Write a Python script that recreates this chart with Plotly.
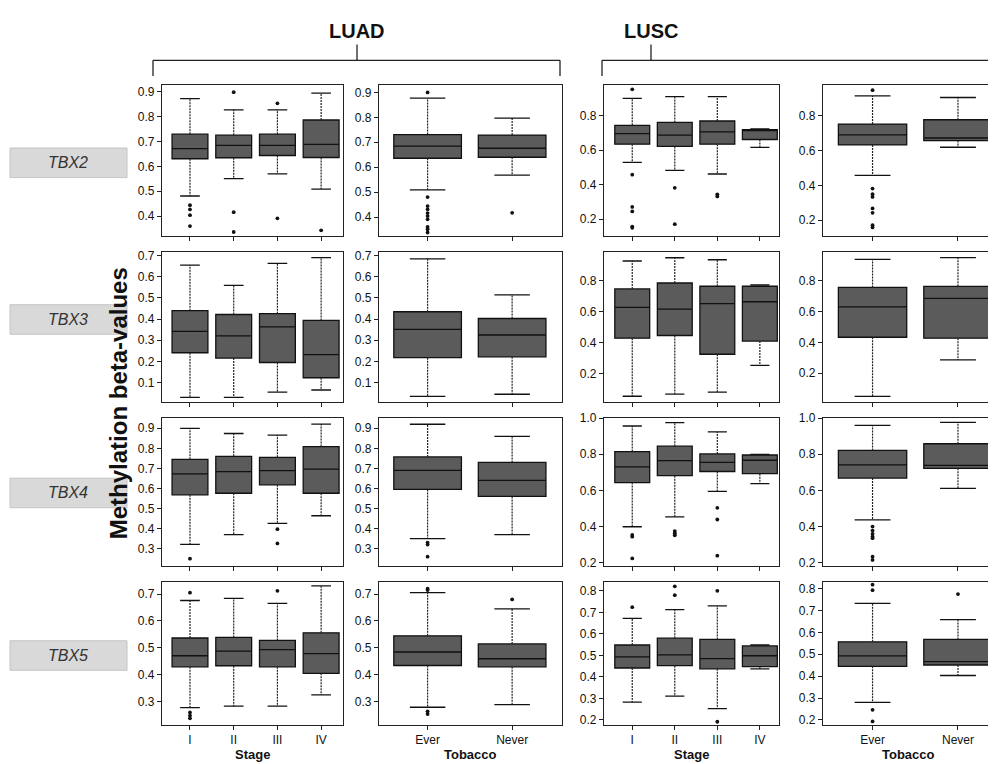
import plotly.graph_objects as go

W, H = 996, 764          # browser window
OFFX, OFFY = 8, 8        # default page margin around the plot div
FW, FH = W - OFFX, H - OFFY

GENES = ["TBX2", "TBX3", "TBX4", "TBX5"]
STAGE_LABELS = ["I", "II", "III", "IV"]
TOBACCO_LABELS = ["Ever", "Never"]

# ---------------- LUAD by stage (I, II, III, IV) ----------------
LUAD_STAGE_LO = {"TBX2": [0.481, 0.551, 0.570, 0.509], "TBX3": [0.030, 0.030, 0.055, 0.065],
                 "TBX4": [0.321, 0.370, 0.426, 0.464], "TBX5": [0.279, 0.284, 0.284, 0.326]}
LUAD_STAGE_Q1 = {"TBX2": [0.631, 0.635, 0.644, 0.636], "TBX3": [0.241, 0.216, 0.195, 0.123],
                 "TBX4": [0.568, 0.576, 0.618, 0.576], "TBX5": [0.430, 0.434, 0.430, 0.406]}
LUAD_STAGE_MED = {"TBX2": [0.672, 0.685, 0.685, 0.689], "TBX3": [0.342, 0.321, 0.363, 0.232],
                  "TBX4": [0.673, 0.684, 0.689, 0.696], "TBX5": [0.471, 0.488, 0.494, 0.479]}
LUAD_STAGE_Q3 = {"TBX2": [0.730, 0.726, 0.730, 0.787], "TBX3": [0.440, 0.422, 0.426, 0.394],
                 "TBX4": [0.745, 0.760, 0.755, 0.809], "TBX5": [0.537, 0.539, 0.528, 0.556]}
LUAD_STAGE_HI = {"TBX2": [0.873, 0.828, 0.828, 0.895], "TBX3": [0.655, 0.560, 0.664, 0.691],
                 "TBX4": [0.900, 0.874, 0.866, 0.921], "TBX5": [0.676, 0.684, 0.665, 0.730]}
LUAD_STAGE_OUT = {"TBX2": [[0.444, 0.427, 0.404, 0.360], [0.899, 0.416, 0.336], [0.854, 0.391], [0.343]],
                  "TBX3": [[], [], [], []],
                  "TBX4": [[0.250], [], [0.397, 0.326], []],
                  "TBX5": [[0.705, 0.261, 0.249, 0.239], [], [0.712], []]}

# ---------------- LUAD by tobacco (Ever, Never) ----------------
LUAD_TOB_LO = {"TBX2": [0.509, 0.568], "TBX3": [0.035, 0.045], "TBX4": [0.350, 0.370], "TBX5": [0.280, 0.290]}
LUAD_TOB_Q1 = {"TBX2": [0.636, 0.640], "TBX3": [0.218, 0.222], "TBX4": [0.595, 0.560], "TBX5": [0.435, 0.430]}
LUAD_TOB_MED = {"TBX2": [0.685, 0.676], "TBX3": [0.352, 0.325], "TBX4": [0.690, 0.640], "TBX5": [0.485, 0.460]}
LUAD_TOB_Q3 = {"TBX2": [0.731, 0.729], "TBX3": [0.435, 0.403], "TBX4": [0.757, 0.730], "TBX5": [0.545, 0.515]}
LUAD_TOB_HI = {"TBX2": [0.877, 0.797], "TBX3": [0.685, 0.515], "TBX4": [0.920, 0.860], "TBX5": [0.705, 0.645]}
LUAD_TOB_OUT = {"TBX2": [[0.900, 0.480, 0.444, 0.431, 0.416, 0.404, 0.391, 0.360, 0.351, 0.338], [0.417]],
                "TBX3": [[], []],
                "TBX4": [[0.330, 0.320, 0.260], []],
                "TBX5": [[0.720, 0.715, 0.265, 0.255], [0.680]]}

# ---------------- LUSC by stage (I, II, III, IV) ----------------
LUSC_STAGE_LO = {"TBX2": [0.528, 0.482, 0.461, 0.615], "TBX3": [0.052, 0.066, 0.079, 0.251],
                 "TBX4": [0.400, 0.455, 0.595, 0.638], "TBX5": [0.282, 0.310, 0.252, 0.437]}
LUSC_STAGE_Q1 = {"TBX2": [0.634, 0.621, 0.634, 0.661], "TBX3": [0.427, 0.444, 0.323, 0.408],
                 "TBX4": [0.644, 0.682, 0.705, 0.693], "TBX5": [0.441, 0.452, 0.437, 0.447]}
LUSC_STAGE_MED = {"TBX2": [0.695, 0.686, 0.705, 0.714], "TBX3": [0.626, 0.614, 0.650, 0.662],
                  "TBX4": [0.731, 0.765, 0.755, 0.767], "TBX5": [0.493, 0.502, 0.485, 0.498]}
LUSC_STAGE_Q3 = {"TBX2": [0.743, 0.760, 0.768, 0.718], "TBX3": [0.745, 0.783, 0.762, 0.762],
                 "TBX4": [0.815, 0.845, 0.802, 0.796], "TBX5": [0.548, 0.580, 0.574, 0.544]}
LUSC_STAGE_HI = {"TBX2": [0.899, 0.910, 0.910, 0.722], "TBX3": [0.925, 0.946, 0.933, 0.770],
                 "TBX4": [0.956, 0.975, 0.924, 0.800], "TBX5": [0.672, 0.713, 0.730, 0.548]}
LUSC_STAGE_OUT = {"TBX2": [[0.952, 0.457, 0.270, 0.244, 0.156, 0.149], [0.381, 0.170], [0.343, 0.331], []],
                  "TBX3": [[], [], [], []],
                  "TBX4": [[0.355, 0.345, 0.225], [0.376, 0.364, 0.353], [0.504, 0.440, 0.240], []],
                  "TBX5": [[0.724], [0.821, 0.780], [0.800, 0.191], []]}

# ---------------- LUSC by tobacco (Ever, Never) ----------------
LUSC_TOB_LO = {"TBX2": [0.457, 0.619], "TBX3": [0.048, 0.286], "TBX4": [0.437, 0.611], "TBX5": [0.280, 0.403]}
LUSC_TOB_Q1 = {"TBX2": [0.632, 0.657], "TBX3": [0.433, 0.427], "TBX4": [0.668, 0.722], "TBX5": [0.445, 0.451]}
LUSC_TOB_MED = {"TBX2": [0.690, 0.672], "TBX3": [0.630, 0.685], "TBX4": [0.741, 0.738], "TBX5": [0.493, 0.466]}
LUSC_TOB_Q3 = {"TBX2": [0.752, 0.777], "TBX3": [0.757, 0.764], "TBX4": [0.821, 0.858], "TBX5": [0.557, 0.568]}
LUSC_TOB_HI = {"TBX2": [0.914, 0.905], "TBX3": [0.939, 0.950], "TBX4": [0.959, 0.976], "TBX5": [0.733, 0.658]}
LUSC_TOB_OUT = {"TBX2": [[0.947, 0.381, 0.349, 0.333, 0.267, 0.242, 0.171, 0.158], []],
                "TBX3": [[], []],
                "TBX4": [[0.400, 0.378, 0.360, 0.345, 0.336, 0.234, 0.216], []],
                "TBX5": [[0.818, 0.793, 0.246, 0.193], [0.775]]}

# y-axis ranges [low, high] and tick step per (gene, column)
Y_RANGES = {
    "TBX2": [[0.321, 0.928], [0.325, 0.930], [0.103, 0.977], [0.110, 0.977]],
    "TBX3": [[0.007, 0.715], [0.007, 0.715], [0.013, 0.980], [0.010, 0.984]],
    "TBX4": [[0.214, 0.951], [0.214, 0.951], [0.184, 1.000], [0.183, 1.000]],
    "TBX5": [[0.216, 0.746], [0.216, 0.746], [0.178, 0.843], [0.179, 0.832]],
}
Y_DTICK = {"TBX2": [0.1, 0.1, 0.2, 0.2], "TBX3": [0.1, 0.1, 0.2, 0.2],
           "TBX4": [0.1, 0.1, 0.2, 0.2], "TBX5": [0.1, 0.1, 0.1, 0.1]}

# ---------------- layout geometry (window pixels) ----------------
COL_PX = [(162, 343), (379, 562), (604, 779), (823, 993)]
ROW_PX = [(79, 232), (249, 401), (417, 567), (583, 728)]
X_RANGES = [[0.36, 4.5], [0.425, 2.59], [0.336, 4.45], [0.42, 2.41]]
BOX_W = [0.82, 0.80, 0.82, 0.80]
CAP_W = [0.45, 0.42, 0.45, 0.42]

FONT = "Arial, Liberation Sans, sans-serif"
FILL = "#5b5b5b"

panels = [
    (LUAD_STAGE_LO, LUAD_STAGE_Q1, LUAD_STAGE_MED, LUAD_STAGE_Q3, LUAD_STAGE_HI, LUAD_STAGE_OUT, STAGE_LABELS),
    (LUAD_TOB_LO, LUAD_TOB_Q1, LUAD_TOB_MED, LUAD_TOB_Q3, LUAD_TOB_HI, LUAD_TOB_OUT, TOBACCO_LABELS),
    (LUSC_STAGE_LO, LUSC_STAGE_Q1, LUSC_STAGE_MED, LUSC_STAGE_Q3, LUSC_STAGE_HI, LUSC_STAGE_OUT, STAGE_LABELS),
    (LUSC_TOB_LO, LUSC_TOB_Q1, LUSC_TOB_MED, LUSC_TOB_Q3, LUSC_TOB_HI, LUSC_TOB_OUT, TOBACCO_LABELS),
]

fig = go.Figure()
layout = {}


def px2x(p):
    return (p - OFFX) / FW


def px2y(p):
    return 1 - (p - OFFY) / FH


for r, gene in enumerate(GENES):
    for c, (LO, Q1, MED, Q3, HI, OUT, labels) in enumerate(panels):
        k = r * 4 + c + 1
        xa = "x" if k == 1 else f"x{k}"
        ya = "y" if k == 1 else f"y{k}"
        pos = list(range(1, len(labels) + 1))
        lo, q1, med, q3, hi, out = LO[gene], Q1[gene], MED[gene], Q3[gene], HI[gene], OUT[gene]

        # dotted whiskers
        wx, wy = [], []
        for i, p in enumerate(pos):
            wx += [p, p, None, p, p, None]
            wy += [q3[i], hi[i], None, q1[i], lo[i], None]
        fig.add_trace(go.Scatter(x=wx, y=wy, mode="lines", xaxis=xa, yaxis=ya,
                                 line=dict(color="#222222", width=1.2, dash="2px,1px"),
                                 hoverinfo="skip", showlegend=False))
        # whisker caps
        cx, cy = [], []
        cw = CAP_W[c] / 2
        for i, p in enumerate(pos):
            cx += [p - cw, p + cw, None, p - cw, p + cw, None]
            cy += [hi[i], hi[i], None, lo[i], lo[i], None]
        fig.add_trace(go.Scatter(x=cx, y=cy, mode="lines", xaxis=xa, yaxis=ya,
                                 line=dict(color="#111111", width=1.3),
                                 hoverinfo="skip", showlegend=False))
        # boxes
        fig.add_trace(go.Box(x=pos, q1=q1, median=med, q3=q3, lowerfence=q1, upperfence=q3,
                             width=BOX_W[c], fillcolor=FILL, whiskerwidth=0,
                             line=dict(color="#111111", width=1.3),
                             boxpoints=False, xaxis=xa, yaxis=ya, showlegend=False))
        # outliers
        ox, oy = [], []
        for i, p in enumerate(pos):
            ox += [p] * len(out[i])
            oy += out[i]
        if ox:
            fig.add_trace(go.Scatter(x=ox, y=oy, mode="markers", xaxis=xa, yaxis=ya,
                                     marker=dict(color="#111111", size=3.8),
                                     hoverinfo="skip", showlegend=False))

        x0, x1 = COL_PX[c]
        y0, y1 = ROW_PX[r]
        axis_common = dict(showline=True, mirror=True, linecolor="#222222", linewidth=1.2,
                           ticks="outside", ticklen=4, tickcolor="#222222", tickwidth=1.2,
                           showgrid=False, zeroline=False,
                           tickfont=dict(family=FONT, size=12, color="#111111"))
        layout["xaxis" if k == 1 else f"xaxis{k}"] = dict(
            domain=[px2x(x0), px2x(x1)], anchor=ya, range=X_RANGES[c],
            tickmode="array", tickvals=pos, ticktext=labels,
            showticklabels=(r == 3), **axis_common)
        layout["yaxis" if k == 1 else f"yaxis{k}"] = dict(
            domain=[px2y(y1), px2y(y0)], anchor=xa, range=Y_RANGES[gene][c],
            tick0=0, dtick=Y_DTICK[gene][c], tickformat=".1f", **axis_common)

shapes = []
annotations = []


def note(x, y, text, font, **kw):
    annotations.append(dict(x=px2x(x), y=px2y(y), xref="paper", yref="paper", text=text,
                            showarrow=False, xanchor="center", yanchor="middle", font=font, **kw))


# gene labels on the left
ROW_LABEL_Y = [158, 317, 493, 658]
for gene, yc in zip(GENES, ROW_LABEL_Y):
    shapes.append(dict(type="rect", xref="paper", yref="paper",
                       x0=px2x(10), x1=px2x(127), y0=px2y(yc + 15), y1=px2y(yc - 15),
                       fillcolor="#d9d9d9", line=dict(color="#c4c4c4", width=1)))
    note(68, yc, f"<i>{gene}</i>", dict(family=FONT, size=16, color="#333333"))

# y axis title
note(118, 402, "<b>Methylation beta-values</b>", dict(family=FONT, size=24, color="#111111"),
     textangle=-90)

# x axis titles
for c, t in enumerate(["Stage", "Tobacco", "Stage", "Tobacco"]):
    x0, x1 = COL_PX[c]
    note((x0 + x1) / 2, 758, f"<b>{t}</b>", dict(family=FONT, size=13, color="#111111"))

# cohort headers with brackets
line = dict(color="#222222", width=1.3)
for name, xl, xr, xc in [("LUAD", 153, 560, 357), ("LUSC", 602, 1010, 651)]:
    note(xc, 24, f"<b>{name}</b>", dict(family=FONT, size=20, color="#111111"))
    shapes.append(dict(type="line", xref="paper", yref="paper", x0=px2x(xl), x1=px2x(xr),
                       y0=px2y(54), y1=px2y(54), line=line))
    shapes.append(dict(type="line", xref="paper", yref="paper", x0=px2x(xl), x1=px2x(xl),
                       y0=px2y(54), y1=px2y(70), line=line))
    shapes.append(dict(type="line", xref="paper", yref="paper", x0=px2x(xr), x1=px2x(xr),
                       y0=px2y(54), y1=px2y(70), line=line))
    shapes.append(dict(type="line", xref="paper", yref="paper", x0=px2x(xc), x1=px2x(xc),
                       y0=px2y(38), y1=px2y(54), line=line))

fig.update_layout(width=FW, height=FH, margin=dict(l=0, r=0, t=0, b=0),
                  paper_bgcolor="white", plot_bgcolor="white",
                  shapes=shapes, annotations=annotations, showlegend=False, **layout)

fig.write_html("out.html")
